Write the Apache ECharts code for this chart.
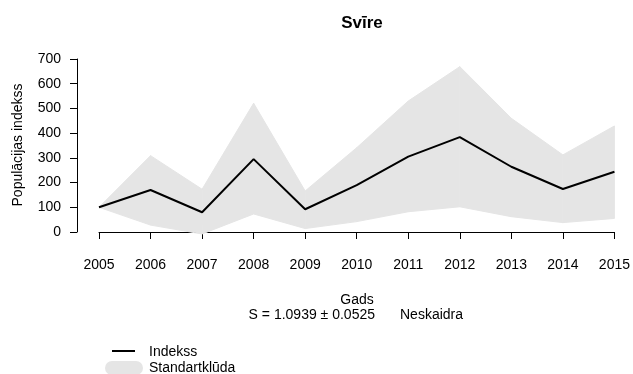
<!DOCTYPE html>
<html>
<head>
<meta charset="utf-8">
<script src="https://cdn.jsdelivr.net/npm/echarts@6/dist/echarts.min.js"></script>
<style>html,body{margin:0;padding:0;background:#fff;}#c{width:633px;height:374px;}</style>
</head>
<body>
<div id="c"></div>
<script>
var years = [2005, 2006, 2007, 2008, 2009, 2010, 2011, 2012, 2013, 2014, 2015];
var indexValues = [100, 170, 80, 295, 92, 190, 305, 384, 264, 174, 244];
var upperValues = [100, 309, 173, 521, 166, 341, 530, 669, 460, 312, 429];
var lowerValues = [100, 28, -8, 73, 14, 42, 82, 102, 62, 38, 55];
var yTicks = [0, 100, 200, 300, 400, 500, 600, 700];

var FONT = '"Liberation Sans", Arial, sans-serif';
var BAND = '#e5e5e5';
var FS = 14;
var lineData = years.map(function (y, i) { return [y, indexValues[i]]; });
var bandData = [];
for (var i = 0; i < years.length - 1; i++) {
  bandData.push([years[i], lowerValues[i], upperValues[i], years[i + 1], lowerValues[i + 1], upperValues[i + 1]]);
}

var chart = echarts.init(document.getElementById('c'));
chart.setOption({
  animation: false,
  backgroundColor: '#fff',
  textStyle: { fontFamily: FONT, color: '#000' },
  title: {
    text: 'Svīre', left: 357, top: 10, textAlign: 'center',
    textStyle: { fontFamily: FONT, fontWeight: 'bold', fontSize: 17, color: '#000' }
  },
  grid: { left: 99, right: 16.3, top: 59, bottom: 142 },
  xAxis: {
    type: 'value', min: years[0], max: years[years.length - 1], interval: 1,
    offset: 7,
    axisLine: { show: true, lineStyle: { color: '#000', width: 1 } },
    axisTick: { show: true, length: 7, lineStyle: { color: '#000' } },
    axisLabel: { margin: 19, fontSize: FS, color: '#000', fontFamily: FONT, formatter: function (v) { return String(v); } },
    splitLine: { show: false }
  },
  yAxis: {
    type: 'value', min: yTicks[0], max: yTicks[yTicks.length - 1], interval: 100,
    position: 'left', offset: 22,
    axisLine: { show: true, lineStyle: { color: '#000', width: 1 } },
    axisTick: { show: true, length: 7, lineStyle: { color: '#000' } },
    axisLabel: { margin: 16, fontSize: FS, color: '#000', fontFamily: FONT },
    splitLine: { show: false }
  },
  series: [
    {
      name: 'Standartklūda', type: 'custom', data: bandData, clip: false, silent: true,
      renderItem: function (params, api) {
        var a = api.coord([api.value(0), api.value(1)]);
        var b = api.coord([api.value(0), api.value(2)]);
        var c = api.coord([api.value(3), api.value(5)]);
        var d = api.coord([api.value(3), api.value(4)]);
        return {
          type: 'polygon',
          shape: { points: [a, b, c, d] },
          style: { fill: BAND, stroke: BAND, lineWidth: 1 }
        };
      }
    },
    {
      name: 'Indekss', type: 'line', data: lineData, symbol: 'none', showSymbol: false,
      lineStyle: { color: '#000', width: 2 }, itemStyle: { color: '#000' }, clip: false, z: 5
    }
  ],
  graphic: [
    { type: 'text', x: 18, y: 145, rotation: Math.PI / 2,
      style: { text: 'Populācijas indekss', font: FS + 'px ' + FONT, fill: '#000', textAlign: 'center', textVerticalAlign: 'middle' } },
    { type: 'text', x: 357, y: 300,
      style: { text: 'Gads', font: FS + 'px ' + FONT, fill: '#000', textAlign: 'center', textVerticalAlign: 'middle' } },
    { type: 'text', x: 375, y: 315,
      style: { text: 'S = 1.0939 ± 0.0525', font: FS + 'px ' + FONT, fill: '#000', textAlign: 'right', textVerticalAlign: 'middle' } },
    { type: 'text', x: 400, y: 315,
      style: { text: 'Neskaidra', font: FS + 'px ' + FONT, fill: '#000', textAlign: 'left', textVerticalAlign: 'middle' } },
    { type: 'line', shape: { x1: 112, y1: 351, x2: 135, y2: 351 }, style: { stroke: '#000', lineWidth: 2 } },
    { type: 'rect', shape: { x: 105, y: 361, width: 38, height: 14, r: 7 }, style: { fill: BAND } },
    { type: 'text', x: 149, y: 352,
      style: { text: 'Indekss', font: FS + 'px ' + FONT, fill: '#000', textAlign: 'left', textVerticalAlign: 'middle' } },
    { type: 'text', x: 149, y: 368,
      style: { text: 'Standartklūda', font: FS + 'px ' + FONT, fill: '#000', textAlign: 'left', textVerticalAlign: 'middle' } }
  ]
});
</script>
</body>
</html>
